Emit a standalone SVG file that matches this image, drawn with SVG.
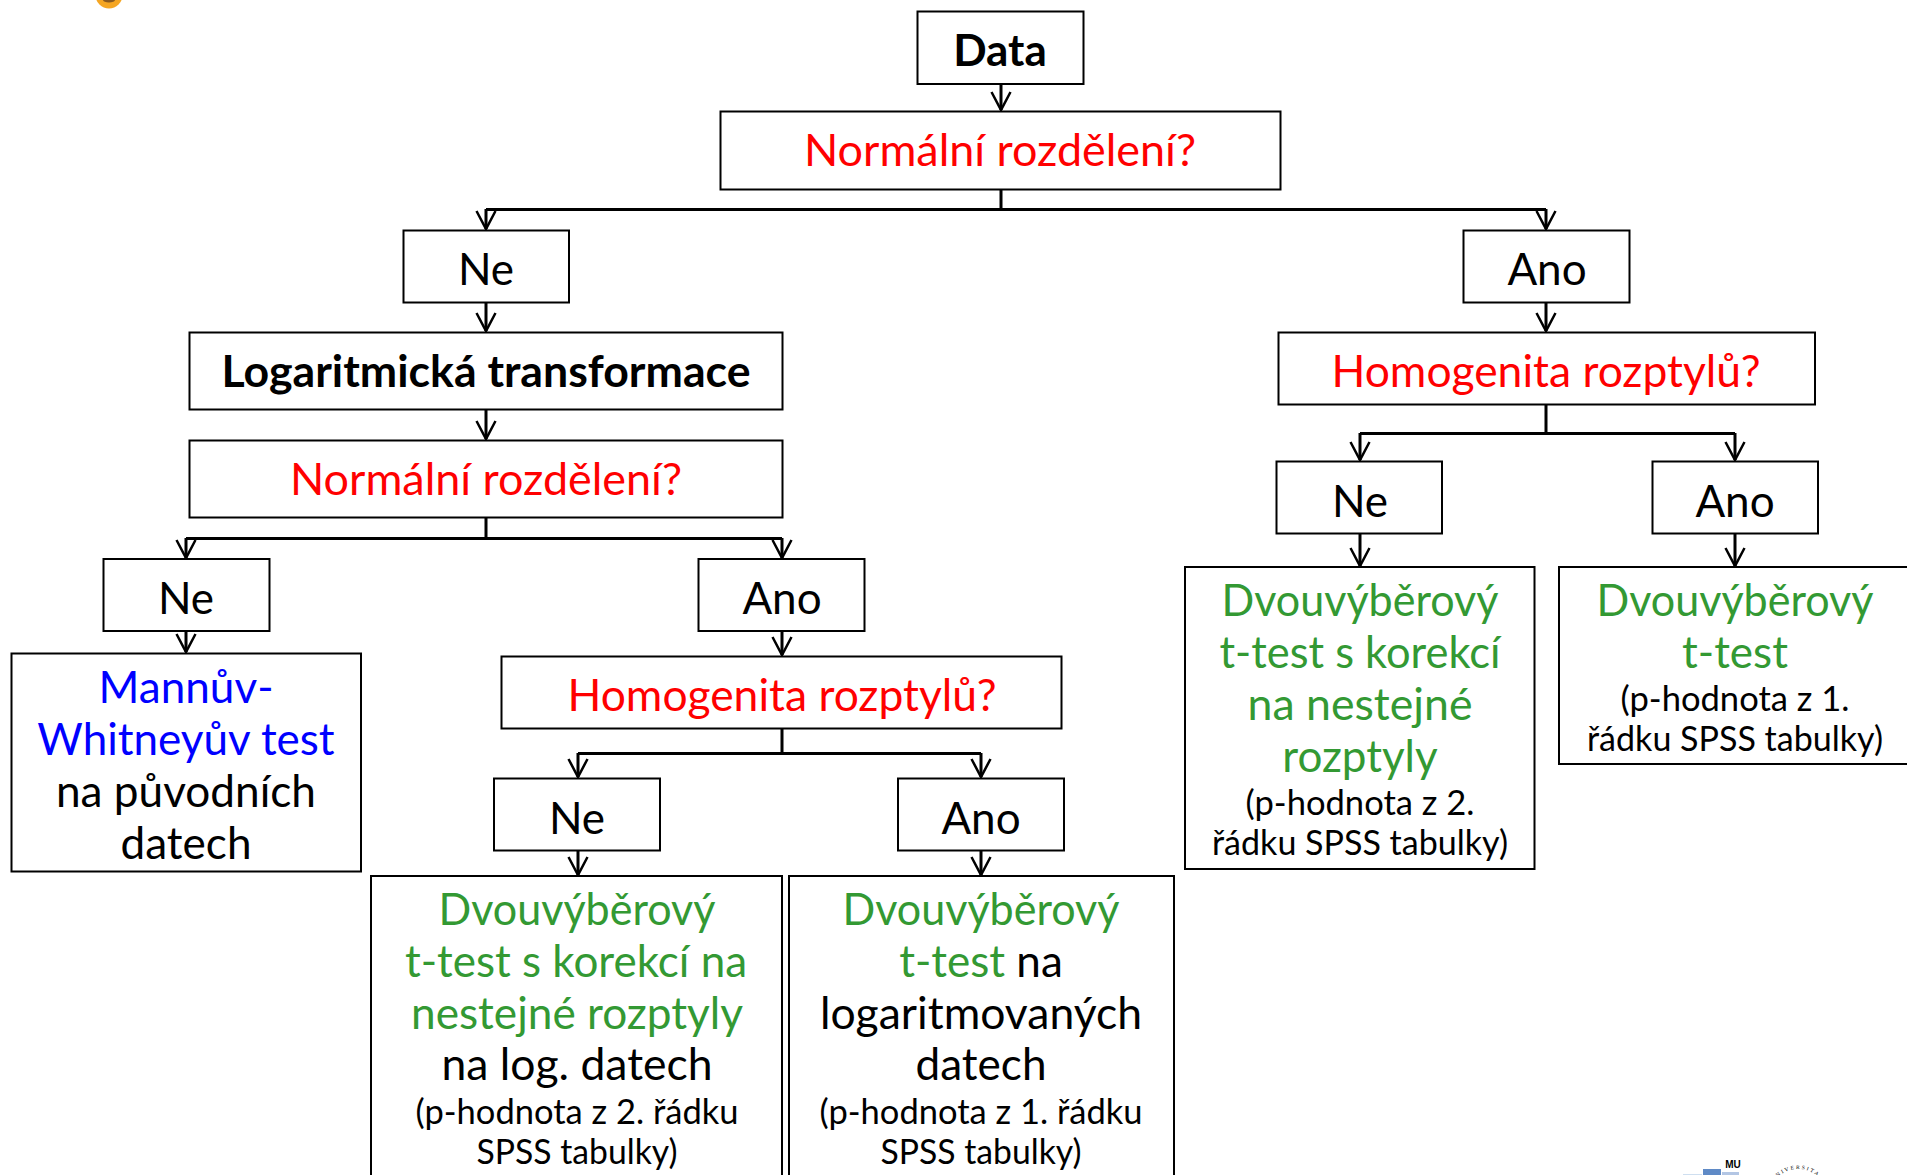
<svg xmlns="http://www.w3.org/2000/svg" width="1907" height="1175" viewBox="0 0 1907 1175">
<style>
.b{fill:#fff;stroke:#000;stroke-width:2}
text{font-family:"Lato","Carlito","Open Sans",sans-serif;text-anchor:middle;fill:#000}
.m{font-size:44px}
.s{font-size:34px}
.bd{font-weight:700}
.r{fill:#f00}.g{fill:#339933}.u{fill:#0000ff}
.c path{fill:none;stroke:#000;stroke-width:3}
.a{marker-end:url(#ah)}
</style>
<defs>
<marker id="ah" markerUnits="userSpaceOnUse" markerWidth="24" markerHeight="24" refX="19" refY="12" orient="auto"><path d="M1 2.5L19 12L1 21.5" fill="none" stroke="#000" stroke-width="2.5"/></marker>
<path id="arc" d="M1768 1199A30 30 0 0 1 1828 1199"/>
</defs>
<rect width="1907" height="1175" fill="#fff"/>
<g id="badge"><circle cx="109" cy="-5" r="13.5" fill="#f5a623"/><ellipse cx="109" cy="0" rx="6" ry="2.5" fill="#8a5a20"/></g>
<g class="c" id="connectors">
<path class="a" d="M1001 84V110"/>
<path d="M1001 190V209.500M486 209.500H1546"/>
<path class="a" d="M486 209V229"/><path class="a" d="M1546 209V229"/>
<path class="a" d="M486 303V331"/><path class="a" d="M1546 303V331"/>
<path class="a" d="M486 410V439"/>
<path d="M486 518V538.500M186 538.500H782"/>
<path class="a" d="M186 538V558"/><path class="a" d="M782 538V558"/>
<path class="a" d="M186 631V652"/><path class="a" d="M782 631V655"/>
<path d="M782 729V753.500M578 753.500H981"/>
<path class="a" d="M578 753V777"/><path class="a" d="M981 753V777"/>
<path class="a" d="M578 851V875"/><path class="a" d="M981 851V875"/>
<path d="M1546 405V433.500M1360 433.500H1735"/>
<path class="a" d="M1360 433V460"/><path class="a" d="M1735 433V460"/>
<path class="a" d="M1360 534V566"/><path class="a" d="M1735 534V566"/>
</g>
<g id="n-data"><rect class="b" x="917.500" y="11.500" width="166" height="72.500"/><text class="m bd" x="1000" y="66">Data</text></g>
<g id="n-norm1"><rect class="b" x="720.500" y="111.500" width="560" height="78"/><text class="m r" x="1000" y="166" textLength="392" lengthAdjust="spacingAndGlyphs">Normální rozdělení?</text></g>
<g id="n-ne1"><rect class="b" x="403.500" y="230.500" width="165.500" height="72"/><text class="m" x="486" y="285">Ne</text></g>
<g id="n-ano1"><rect class="b" x="1463.500" y="230.500" width="166" height="72"/><text class="m" x="1547" y="285">Ano</text></g>
<g id="n-log"><rect class="b" x="189.500" y="332.500" width="593" height="77"/><text class="m bd" x="486" y="387" textLength="529" lengthAdjust="spacingAndGlyphs">Logaritmická transformace</text></g>
<g id="n-norm2"><rect class="b" x="189.500" y="440.500" width="593" height="77"/><text class="m r" x="486" y="495" textLength="392" lengthAdjust="spacingAndGlyphs">Normální rozdělení?</text></g>
<g id="n-ne2"><rect class="b" x="103.500" y="559" width="166" height="72"/><text class="m" x="186" y="614">Ne</text></g>
<g id="n-ano2"><rect class="b" x="698.500" y="559" width="166" height="72"/><text class="m" x="782" y="614">Ano</text></g>
<g id="n-mann"><rect class="b" x="11.500" y="653.500" width="349.500" height="218"/>
<text class="m u" x="186" y="703" textLength="175" lengthAdjust="spacingAndGlyphs">Mannův-</text><text class="m u" x="186" y="755">Whitneyův test</text><text class="m" x="186" y="807" textLength="260" lengthAdjust="spacingAndGlyphs">na původních</text><text class="m" x="186" y="859" textLength="131" lengthAdjust="spacingAndGlyphs">datech</text></g>
<g id="n-hom2"><rect class="b" x="501.500" y="656.500" width="560" height="72"/><text class="m r" x="782" y="711" textLength="429" lengthAdjust="spacingAndGlyphs">Homogenita rozptylů?</text></g>
<g id="n-ne3"><rect class="b" x="494" y="778.500" width="166" height="72"/><text class="m" x="577" y="834">Ne</text></g>
<g id="n-ano3"><rect class="b" x="898" y="778.500" width="166" height="72"/><text class="m" x="981" y="834">Ano</text></g>
<g id="n-t1"><rect class="b" x="371" y="876" width="411" height="320"/>
<text class="m g" x="577" y="925" textLength="277" lengthAdjust="spacingAndGlyphs">Dvouvýběrový</text><text class="m g" x="576" y="977">t-test s korekcí na</text><text class="m g" x="577" y="1029" textLength="332" lengthAdjust="spacingAndGlyphs">nestejné rozptyly</text><text class="m" x="577" y="1080" textLength="271" lengthAdjust="spacingAndGlyphs">na log. datech</text><text class="s" x="577" y="1124" textLength="323" lengthAdjust="spacingAndGlyphs">(p-hodnota z 2. řádku</text><text class="s" x="577" y="1164" textLength="201" lengthAdjust="spacingAndGlyphs">SPSS tabulky)</text></g>
<g id="n-t2"><rect class="b" x="789" y="876" width="385" height="320"/>
<text class="m g" x="981" y="925" textLength="277" lengthAdjust="spacingAndGlyphs">Dvouvýběrový</text><text class="m" x="981" y="977"><tspan class="g">t-test</tspan> na</text><text class="m" x="981" y="1029" textLength="322" lengthAdjust="spacingAndGlyphs">logaritmovaných</text><text class="m" x="981" y="1080" textLength="131" lengthAdjust="spacingAndGlyphs">datech</text><text class="s" x="981" y="1124" textLength="323" lengthAdjust="spacingAndGlyphs">(p-hodnota z 1. řádku</text><text class="s" x="981" y="1164" textLength="201" lengthAdjust="spacingAndGlyphs">SPSS tabulky)</text></g>
<g id="n-hom1"><rect class="b" x="1278.500" y="332.500" width="536.500" height="72"/><text class="m r" x="1546" y="387" textLength="429" lengthAdjust="spacingAndGlyphs">Homogenita rozptylů?</text></g>
<g id="n-ne4"><rect class="b" x="1276.500" y="461.500" width="165.500" height="72"/><text class="m" x="1360" y="517">Ne</text></g>
<g id="n-ano4"><rect class="b" x="1652.500" y="461.500" width="165.500" height="72"/><text class="m" x="1735" y="517">Ano</text></g>
<g id="n-t3"><rect class="b" x="1185" y="567" width="349.500" height="302"/>
<text class="m g" x="1360" y="616" textLength="277" lengthAdjust="spacingAndGlyphs">Dvouvýběrový</text><text class="m g" x="1360" y="668" textLength="281" lengthAdjust="spacingAndGlyphs">t-test s korekcí</text><text class="m g" x="1360" y="720" textLength="225" lengthAdjust="spacingAndGlyphs">na nestejné</text><text class="m g" x="1360" y="772">rozptyly</text><text class="s" x="1360" y="815" textLength="229" lengthAdjust="spacingAndGlyphs">(p-hodnota z 2.</text><text class="s" x="1360" y="855" textLength="296" lengthAdjust="spacingAndGlyphs">řádku SPSS tabulky)</text></g>
<g id="n-t4"><rect class="b" x="1559" y="567" width="360" height="197"/>
<text class="m g" x="1735" y="616" textLength="277" lengthAdjust="spacingAndGlyphs">Dvouvýběrový</text><text class="m g" x="1735" y="668">t-test</text><text class="s" x="1735" y="711" textLength="229" lengthAdjust="spacingAndGlyphs">(p-hodnota z 1.</text><text class="s" x="1735" y="751" textLength="296" lengthAdjust="spacingAndGlyphs">řádku SPSS tabulky)</text></g>
<g id="logos">
<rect x="1683" y="1174" width="19" height="2" fill="#cfdff0"/><rect x="1703" y="1169" width="18" height="7" fill="#5f8ac6"/><rect x="1722" y="1172" width="17" height="4" fill="#b3c6e4"/>
<text x="1733" y="1168" style="font-family:'Liberation Sans',sans-serif;font-size:10px;font-weight:700">MU</text>
<text style="font-family:'Liberation Serif',serif;font-size:5.500px;letter-spacing:1.800px"><textPath href="#arc" startOffset="50%">NIVERSITA</textPath></text>
</g>
</svg>
